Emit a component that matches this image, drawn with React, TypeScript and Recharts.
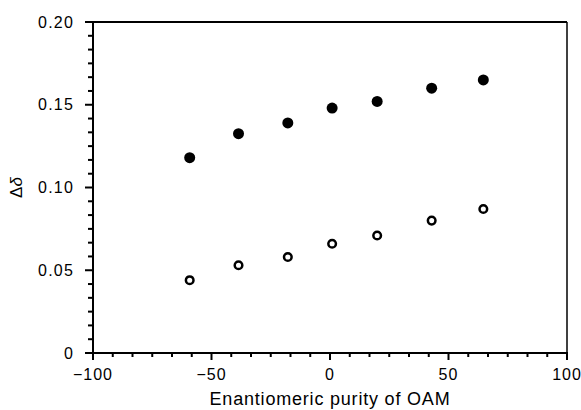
import React from 'react';
import { ScatterChart, Scatter, XAxis, YAxis, ReferenceLine } from 'recharts';

// values
const purity = [-59.2, -38.6, -17.8, 0.9, 19.9, 42.9, 64.7];
const filledDelta = [0.118, 0.1325, 0.139, 0.148, 0.152, 0.160, 0.165];
const openDelta = [0.044, 0.053, 0.058, 0.066, 0.071, 0.080, 0.087];

const xMajor = [-100, -50, 0, 50, 100];
const yMajor = [0, 0.05, 0.1, 0.15, 0.2];
const yLabels = ['0', '0.05', '0.10', '0.15', '0.20'];

const FONT = '"Liberation Sans", Arial, Helvetica, sans-serif';

// 5 minor ticks between each pair of major ticks, as in the original
const withMinor = (major: number[]) => {
  const out: number[] = [];
  for (let i = 0; i < major.length - 1; i++) {
    const step = (major[i + 1] - major[i]) / 6;
    for (let k = 0; k < 6; k++) out.push(major[i] + step * k);
  }
  out.push(major[major.length - 1]);
  return out;
};

const xTicks = withMinor(xMajor);
const yTicks = withMinor(yMajor);

const filledData = purity.map((x, i) => ({ x, y: filledDelta[i] }));
const openData = purity.map((x, i) => ({ x, y: openDelta[i] }));

const fmtX = (v: number) => (v < 0 ? '\u2212' + Math.abs(v) : String(v));

const XTick = (props: any) => {
  const { x, y, index } = props;
  const major = index % 6 === 0;
  const v = xMajor[index / 6];
  return (
    <g>
      <line x1={x} x2={x} y1={y - 1} y2={y + (major ? 7 : 4)} stroke="#000" strokeWidth={2} />
      {major && (
        <text x={x} y={y + 27} textAnchor="middle" fontSize={16} letterSpacing={1} fontFamily={FONT} fill="#000">
          {fmtX(v)}
        </text>
      )}
    </g>
  );
};

const YTick = (props: any) => {
  const { x, y, index } = props;
  const major = index % 6 === 0;
  const label = yLabels[index / 6];
  return (
    <g>
      <line x1={x + 1} x2={x - (major ? 8 : 5)} y1={y} y2={y} stroke="#000" strokeWidth={2} />
      {major && (
        <text x={x - 19} y={y + 5.5} textAnchor="end" fontSize={16} letterSpacing={1.2} fontFamily={FONT} fill="#000">
          {label}
        </text>
      )}
    </g>
  );
};

const YLabel = (props: any) => {
  const { viewBox } = props;
  const cy = viewBox.y + viewBox.height / 2;
  const cx = 16;
  return (
    <text
      x={cx}
      y={cy}
      transform={`rotate(-90 ${cx} ${cy})`}
      textAnchor="middle"
      dominantBaseline="central"
      fontSize={17}
      fontFamily={FONT}
      fill="#000"
    >
      Δ<tspan fontStyle="italic">δ</tspan>
    </text>
  );
};

const XLabel = (props: any) => {
  const { viewBox } = props;
  const cx = viewBox.x + viewBox.width / 2;
  return (
    <text x={cx} y={viewBox.y + 52} textAnchor="middle" fontSize={18} letterSpacing={0.8} fontFamily={FONT} fill="#000">
      Enantiomeric purity of OAM
    </text>
  );
};

export default function App() {
  return (
    <div style={{ position: 'absolute', left: 0, top: 0, background: '#fff' }}>
      <ScatterChart width={581} height={410} margin={{ top: 22, right: 14, bottom: 0, left: 0 }}>
        <XAxis
          type="number"
          dataKey="x"
          domain={[-100, 100]}
          ticks={xTicks}
          interval={0}
          tickSize={0}
          tickMargin={0}
          tick={<XTick />}
          height={57}
          axisLine={{ stroke: '#000', strokeWidth: 2 }}
          label={<XLabel />}
          allowDataOverflow
        />
        <YAxis
          type="number"
          dataKey="y"
          domain={[0, 0.2]}
          ticks={yTicks}
          interval={0}
          tickSize={0}
          tickMargin={0}
          tick={<YTick />}
          width={93}
          axisLine={{ stroke: '#000', strokeWidth: 2 }}
          label={<YLabel />}
          allowDataOverflow
        />
        <ReferenceLine y={0.2} stroke="#000" strokeWidth={2} />
        <ReferenceLine x={100} stroke="#000" strokeWidth={1.5} />
        <Scatter
          data={filledData}
          isAnimationActive={false}
          shape={(p: any) => <circle cx={p.cx} cy={p.cy} r={5.5} fill="#000" />}
        />
        <Scatter
          data={openData}
          isAnimationActive={false}
          shape={(p: any) => (
            <circle cx={p.cx} cy={p.cy} r={3.8} fill="#fff" stroke="#000" strokeWidth={2.5} />
          )}
        />
      </ScatterChart>
    </div>
  );
}
